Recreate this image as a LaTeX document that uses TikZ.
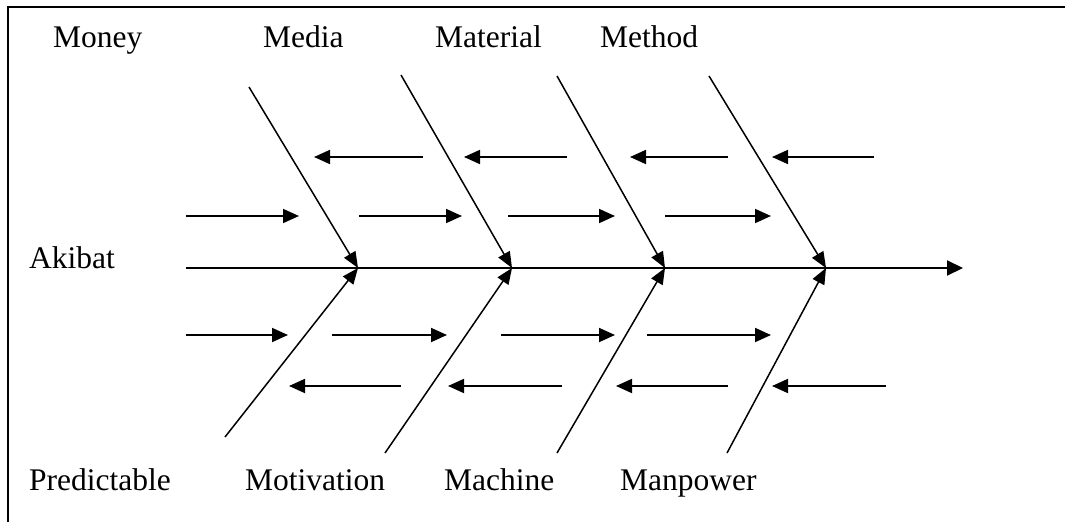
\documentclass[tikz,border=0pt]{standalone}
\usepackage{fontspec}
\setmainfont{Liberation Serif}
\usetikzlibrary{arrows.meta}
\begin{document}
\begin{tikzpicture}[x=1pt,y=-1pt,
  lbl/.style={anchor=base west, inner sep=0pt, font=\fontsize{31.5}{36}\selectfont},
  bone/.style={line width=1.5pt, -{Triangle[length=16pt,width=13pt]}},
  spine/.style={line width=2pt, -{Triangle[length=16pt,width=15pt]}},
  sub/.style={line width=1.8pt, -{Triangle[length=16pt,width=14pt]}},
  frame/.style={line width=2.2pt}]
\useasboundingbox (0,0) rectangle (1065,522);
% frame (right and bottom sides lie outside the picture)
\coordinate (fbl) at (8,522);
\coordinate (ftl) at (8,7);
\coordinate (ftr) at (1065,7);
\draw[frame] (fbl) -- (ftl) -- (ftr);

% labels
\node[lbl] (money) at (53,47) {Money};
\node[lbl] (media) at (263,47) {Media};
\node[lbl] (material) at (435,47) {Material};
\node[lbl] (method) at (600,47) {Method};
\node[lbl] (akibat) at (29,268) {Akibat};
\node[lbl] (predictable) at (29,490) {Predictable};
\node[lbl] (motivation) at (245,490) {Motivation};
\node[lbl] (machine) at (444,490) {Machine};
\node[lbl] (manpower) at (620,490) {Manpower};

% spine
\coordinate (s0) at (186,268);
\coordinate (head) at (963,268);
\coordinate (j1) at (358,268);
\coordinate (j2) at (512,268);
\coordinate (j3) at (665,268);
\coordinate (j4) at (826,268);
\draw[spine] (s0) -- (head);

% upper bones
\coordinate (u1) at (249,87);
\coordinate (u2) at (401,75);
\coordinate (u3) at (557,76);
\coordinate (u4) at (709,76);
\draw[bone] (u1) -- (j1);
\draw[bone] (u2) -- (j2);
\draw[bone] (u3) -- (j3);
\draw[bone] (u4) -- (j4);

% lower bones
\coordinate (l1) at (225,437);
\coordinate (l2) at (385,453);
\coordinate (l3) at (557,453);
\coordinate (l4) at (727,453);
\draw[bone] (l1) -- (j1);
\draw[bone] (l2) -- (j2);
\draw[bone] (l3) -- (j3);
\draw[bone] (l4) -- (j4);

% row 1 (y=157), pointing left
\coordinate (a1s) at (423,157); \coordinate (a1e) at (314,157);
\coordinate (a2s) at (567,157); \coordinate (a2e) at (464,157);
\coordinate (a3s) at (728,157); \coordinate (a3e) at (630,157);
\coordinate (a4s) at (874,157); \coordinate (a4e) at (772,157);
\draw[sub] (a1s) -- (a1e);
\draw[sub] (a2s) -- (a2e);
\draw[sub] (a3s) -- (a3e);
\draw[sub] (a4s) -- (a4e);

% row 2 (y=216), pointing right
\coordinate (b1s) at (186,216); \coordinate (b1e) at (299,216);
\coordinate (b2s) at (359,216); \coordinate (b2e) at (462,216);
\coordinate (b3s) at (508,216); \coordinate (b3e) at (615,216);
\coordinate (b4s) at (665,216); \coordinate (b4e) at (771,216);
\draw[sub] (b1s) -- (b1e);
\draw[sub] (b2s) -- (b2e);
\draw[sub] (b3s) -- (b3e);
\draw[sub] (b4s) -- (b4e);

% row 3 (y=335), pointing right
\coordinate (c1s) at (186,335); \coordinate (c1e) at (288,335);
\coordinate (c2s) at (332,335); \coordinate (c2e) at (447,335);
\coordinate (c3s) at (501,335); \coordinate (c3e) at (615,335);
\coordinate (c4s) at (647,335); \coordinate (c4e) at (771,335);
\draw[sub] (c1s) -- (c1e);
\draw[sub] (c2s) -- (c2e);
\draw[sub] (c3s) -- (c3e);
\draw[sub] (c4s) -- (c4e);

% row 4 (y=386), pointing left
\coordinate (d1s) at (401,386); \coordinate (d1e) at (289,386);
\coordinate (d2s) at (562,386); \coordinate (d2e) at (448,386);
\coordinate (d3s) at (728,386); \coordinate (d3e) at (616,386);
\coordinate (d4s) at (886,386); \coordinate (d4e) at (772,386);
\draw[sub] (d1s) -- (d1e);
\draw[sub] (d2s) -- (d2e);
\draw[sub] (d3s) -- (d3e);
\draw[sub] (d4s) -- (d4e);
\end{tikzpicture}
\end{document}
